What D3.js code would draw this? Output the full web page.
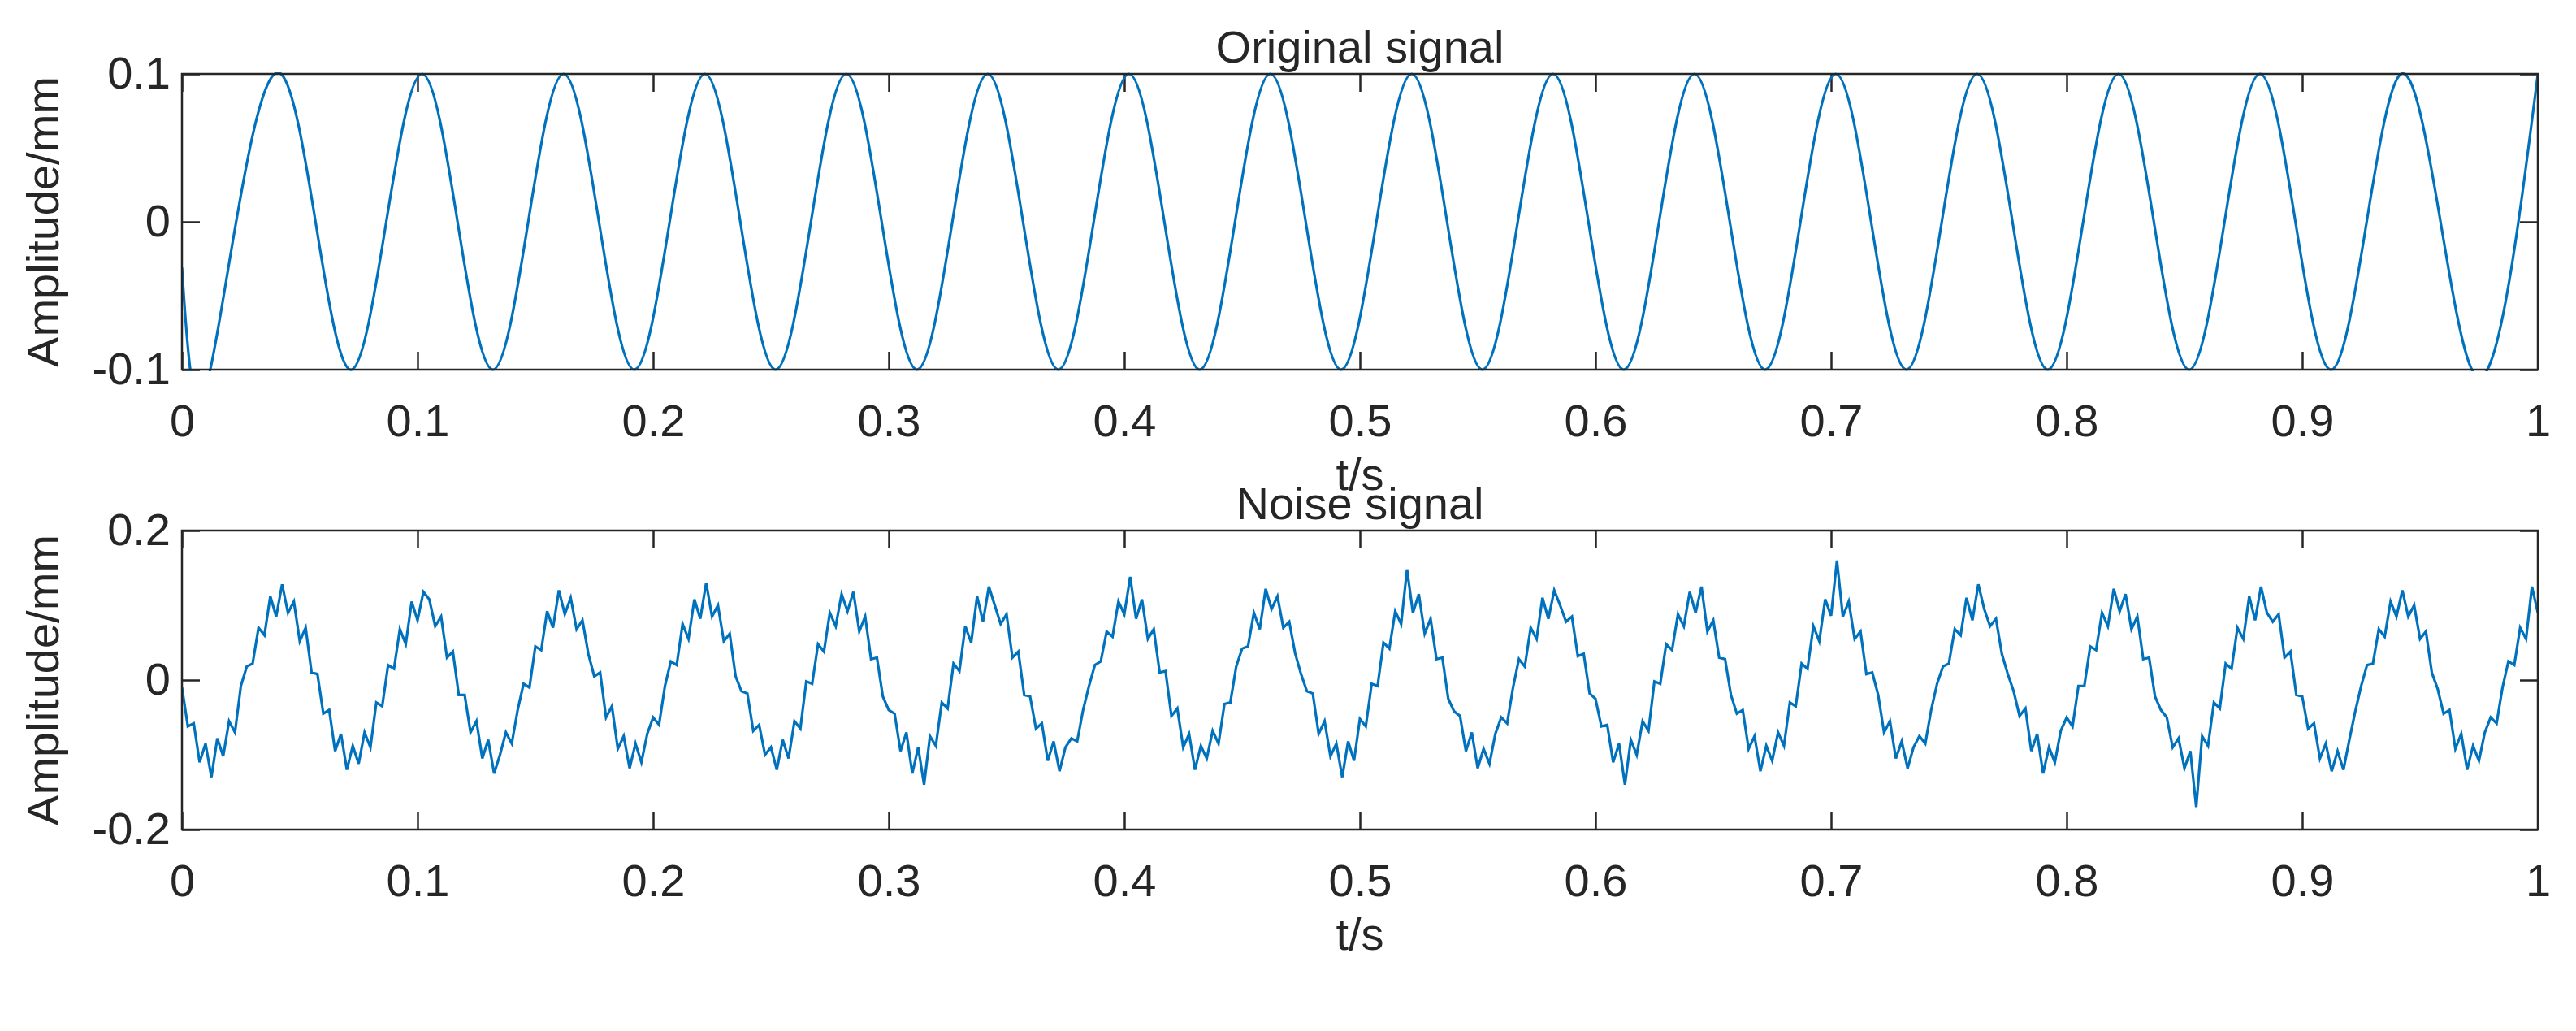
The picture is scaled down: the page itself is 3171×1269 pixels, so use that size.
<!DOCTYPE html>
<html><head><meta charset="utf-8">
<script src="https://cdn.jsdelivr.net/npm/d3@7"></script>
<style>body{margin:0;background:#fff}text{font-family:"Liberation Sans",Arial,sans-serif;fill:#262626}</style>
</head><body><div id="chart"></div>
<script>
// Original signal: extrema (trough/peak times), spline through them
let origT = [0, 0.012, 0.042, 0.072, 0.102, 0.132, 0.162, 0.192, 0.222, 0.252, 0.282, 0.312, 0.342, 0.372, 0.402, 0.432, 0.462, 0.492, 0.522, 0.552, 0.582, 0.612, 0.642, 0.672, 0.702, 0.732, 0.762, 0.792, 0.822, 0.852, 0.882, 0.912, 0.942, 0.972, 1.0];
let origV = [-0.031, -0.1, 0.1, -0.1, 0.1, -0.1, 0.1, -0.1, 0.1, -0.1, 0.1, -0.1, 0.1, -0.1, 0.1, -0.1, 0.1, -0.1, 0.1, -0.1, 0.1, -0.1, 0.1, -0.1, 0.1, -0.1, 0.1, -0.1, 0.1, -0.1, 0.1, -0.1, 0.1, -0.1, 0.0998];

// Noise signal, sampled every 0.0025 s, values in 1/1000 mm
let noiseStep = 0.0025;
let noiseMilli = [
-10,-62,-58,-110,-85,-130,-78,-102,-55,-70,-8,18,22,70,60,112,85,128,90,105,52,70,10,8,
-45,-40,-95,-72,-120,-88,-112,-70,-90,-30,-35,20,15,68,48,105,80,118,108,72,85,30,38,-20,
-20,-70,-55,-105,-80,-125,-100,-70,-85,-40,-5,-10,45,40,92,70,120,88,110,68,80,35,5,10,
-50,-35,-92,-75,-118,-85,-110,-72,-50,-60,-8,25,20,75,55,108,82,130,85,100,52,62,5,-15,
-18,-68,-60,-100,-90,-120,-80,-105,-55,-65,-2,-5,48,38,90,72,115,92,118,65,85,28,30,-22,
-40,-45,-95,-70,-125,-90,-140,-75,-88,-30,-38,22,12,72,50,112,78,125,100,75,88,30,38,-20,
-22,-65,-58,-108,-82,-122,-90,-78,-82,-40,-8,20,25,65,58,105,88,138,82,108,55,68,10,12,
-48,-38,-90,-72,-120,-88,-105,-68,-85,-32,-30,18,42,45,90,68,122,95,112,70,78,36,8,-15,
-18,-72,-55,-102,-85,-130,-82,-108,-52,-62,-5,-8,50,42,92,75,148,90,115,62,82,28,30,-25,
-42,-48,-95,-70,-118,-92,-112,-72,-50,-58,-10,28,18,70,55,110,82,120,100,78,85,32,35,-18,
-25,-62,-60,-110,-85,-140,-80,-100,-55,-68,-2,-5,48,40,88,72,118,90,125,65,80,30,28,-20,
-45,-40,-92,-75,-122,-88,-108,-70,-88,-30,-35,22,15,72,52,108,86,160,85,105,55,65,8,10,
-20,-70,-55,-105,-82,-118,-90,-75,-85,-40,-5,18,22,68,60,110,80,128,95,72,82,35,8,-15,
-48,-38,-95,-72,-125,-90,-110,-68,-50,-62,-8,-8,45,40,90,72,122,92,115,68,85,28,30,-22,
-40,-50,-90,-78,-118,-95,-170,-75,-88,-30,-38,22,15,70,55,112,80,125,90,78,88,30,38,-20,
-22,-65,-58,-105,-85,-122,-95,-120,-80,-42,-8,20,22,68,58,105,85,120,85,100,55,65,10,-12,
-45,-40,-92,-72,-120,-88,-108,-70,-50,-58,-10,25,20,70,55,125,90
];

let xTicks = [0, 0.1, 0.2, 0.3, 0.4, 0.5, 0.6, 0.7, 0.8, 0.9, 1];
let panels = [
  {title: "Original signal", yTicks: [-0.1, 0, 0.1], yDomain: [-0.1, 0.1], top: 91, bottom: 455,
   data: origT.map((t, i) => [t, origV[i]]), curve: d3.curveNatural},
  {title: "Noise signal", yTicks: [-0.2, 0, 0.2], yDomain: [-0.2, 0.2], top: 653, bottom: 1021,
   data: noiseMilli.map((v, i) => [i * noiseStep, v / 1000]), curve: d3.curveLinear}
];

let W = 3171, H = 1269, left = 224, right = 3124;
let svg = d3.select("#chart").append("svg").attr("width", W).attr("height", H);
let x = d3.scaleLinear().domain([0, 1]).range([left, right]);
let fs = 56;

panels.forEach(p => {
  let y = d3.scaleLinear().domain(p.yDomain).range([p.bottom, p.top]);
  let g = svg.append("g");
  let tl = 22;
  let fmt = d => d === 0 ? "0" : String(d);

  g.append("g").attr("transform", `translate(0,${p.bottom})`)
    .call(d3.axisBottom(x).tickValues(xTicks).tickSize(-tl).tickPadding(tl + 20).tickFormat(fmt));
  g.append("g").attr("transform", `translate(0,${p.top})`)
    .call(d3.axisTop(x).tickValues(xTicks).tickSize(-tl).tickFormat(""));
  g.append("g").attr("transform", `translate(${left},0)`)
    .call(d3.axisLeft(y).tickValues(p.yTicks).tickSize(-tl).tickPadding(14).tickFormat(fmt));
  g.append("g").attr("transform", `translate(${right},0)`)
    .call(d3.axisRight(y).tickValues(p.yTicks).tickSize(-tl).tickFormat(""));

  g.selectAll(".domain").remove();
  g.selectAll(".tick line").attr("stroke", "#262626").attr("stroke-width", 2.5);
  g.selectAll(".tick text").attr("font-size", fs).attr("fill", "#262626");

  let clipId = "clip" + p.top;
  svg.append("clipPath").attr("id", clipId).append("rect")
    .attr("x", left).attr("y", p.top - 2).attr("width", right - left).attr("height", p.bottom - p.top + 4);

  g.append("path").datum(p.data)
    .attr("clip-path", `url(#${clipId})`)
    .attr("fill", "none").attr("stroke", "#0072BD").attr("stroke-width", 3.2)
    .attr("d", d3.line().x(d => x(d[0])).y(d => y(d[1])).curve(p.curve));

  g.append("rect").attr("x", left).attr("y", p.top).attr("width", right - left).attr("height", p.bottom - p.top)
    .attr("fill", "none").attr("stroke", "#262626").attr("stroke-width", 2.5);

  g.append("text").attr("x", (left + right) / 2).attr("y", p.top - 14)
    .attr("text-anchor", "middle").attr("font-size", fs).text(p.title);
  g.append("text").attr("x", (left + right) / 2).attr("y", p.bottom + 148)
    .attr("text-anchor", "middle").attr("font-size", fs).text("t/s");
  g.append("text").attr("transform", `translate(72,${(p.top + p.bottom) / 2}) rotate(-90)`)
    .attr("text-anchor", "middle").attr("font-size", fs).text("Amplitude/mm");
});
</script></body></html>
